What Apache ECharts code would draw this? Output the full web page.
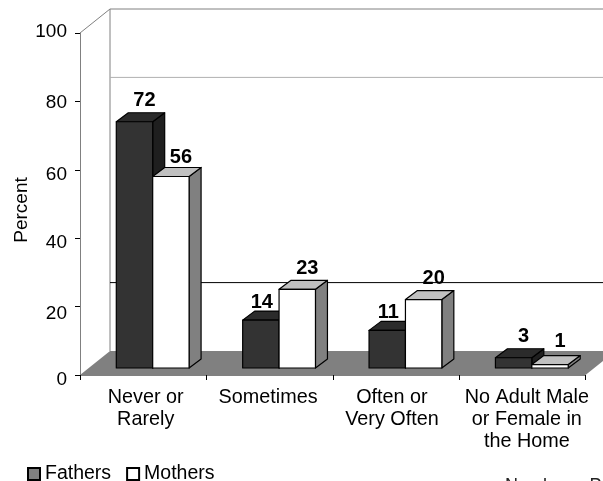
<!DOCTYPE html>
<html><head><meta charset="utf-8">
<style>html,body{margin:0;padding:0;background:#fff}#c{width:603px;height:481px;overflow:hidden}</style>
<script src="https://cdn.jsdelivr.net/npm/echarts@6/dist/echarts.min.js"></script>
</head><body><div id="c"></div>
<script>
const categories = ['Never or\nRarely', 'Sometimes', 'Often or\nVery Often', 'No Adult Male\nor Female in\nthe Home'];
const fathers = [72, 14, 11, 3];
const mothers = [56, 23, 20, 1];
const yTicks = [0, 20, 40, 60, 80, 100];
const wallLines = [20, 80];
const footnote = 'Number = P';

const FONT = '"Liberation Sans", Arial, sans-serif';
const DX = 30, DY = 24, BDX = 12, BDY = 9, MIDX = 9.5, MIDY = 7;
const MOTHER_LABEL_RISE = [18.5, 21, 21, 23];
const chart = echarts.init(document.getElementById('c'), null, {renderer: 'canvas'});

function wallItem(params, api) {
  const band = api.size([1, 0])[0];
  const o = api.coord([0, 0]);
  const t = api.coord([0, 100]);
  const l = o[0] - band / 2, b = o[1], top = t[1];
  const r = api.coord([3, 0])[0] + band / 2;
  const kids = [
    {type: 'polygon', shape: {points: [[l, b], [l + DX, b - DY], [r + DX, b - DY], [r, b]]},
     style: {fill: '#808080', stroke: null}},
    {type: 'polyline', shape: {points: [[l + DX, b - DY], [l + DX, top - DY], [r + DX, top - DY]]},
     style: {fill: null, stroke: '#808080', lineWidth: 1}},
    {type: 'line', shape: {x1: l, y1: top, x2: l + DX, y2: top - DY},
     style: {stroke: '#808080', lineWidth: 1}}
  ];
  return {type: 'group', children: kids};
}
function gridItem(params, api) {
  const v = api.value(0);
  const o = api.coord([0, v]);
  const band = api.size([1, 0])[0];
  const l = o[0] - band / 2 + DX;
  return {type: 'line', shape: {x1: l, y1: o[1] - DY, x2: 603, y2: o[1] - DY},
    style: {stroke: v === 20 ? '#000' : '#b0b0b0', lineWidth: 1}};
}
function barItem(slot, front, topc, side, other) {
  return function (params, api) {
    const i = api.value(0), v = api.value(1);
    const band = api.size([1, 0])[0];
    const w = band * 0.288;
    const c = api.coord([i, v]), z = api.coord([i, 0]);
    const x0 = c[0] + MIDX + (slot === 0 ? -w : 0), x1 = x0 + w;
    const yt = c[1] - MIDY, yb = z[1] - MIDY;
    const edge = {stroke: '#000', lineWidth: 1.2, lineJoin: 'round'};
    const shifted = slot === 0 && other[i] > v;
    const rise = slot === 1 ? MOTHER_LABEL_RISE[i] : (shifted ? 18 : 21);
    return {type: 'group', children: [
      {type: 'polygon', shape: {points: [[x1, yt], [x1 + BDX, yt - BDY], [x1 + BDX, yb - BDY], [x1, yb]]},
       style: Object.assign({fill: side}, edge)},
      {type: 'polygon', shape: {points: [[x0, yt], [x0 + BDX, yt - BDY], [x1 + BDX, yt - BDY], [x1, yt]]},
       style: Object.assign({fill: topc}, edge)},
      {type: 'rect', shape: {x: x0, y: yt, width: w, height: yb - yt},
       style: Object.assign({fill: front}, edge)},
      {type: 'text', x: (x0 + x1) / 2 + (shifted ? 1 : 10), y: yt - rise,
       style: {text: String(v), fill: '#000', font: 'bold 20px ' + FONT, align: 'center', verticalAlign: 'middle'}}
    ]};
  };
}

const labelStyle = off => ({fontFamily: FONT, fontSize: 19, color: '#000',
  padding: off >= 0 ? [2 * off, 0, 0, 0] : [0, 0, -2 * off, 0]});
const catStyle = dx => ({fontFamily: FONT, fontSize: 19.8, color: '#000', lineHeight: 21.8,
  padding: dx >= 0 ? [0, 0, 0, 2 * dx] : [0, -2 * dx, 0, 0]});

chart.setOption({
  animation: false,
  backgroundColor: '#fff',
  grid: {left: 80, right: 17.5, top: 33, height: 342, containLabel: false, outerBoundsMode: 'none'},
  legend: {
    left: 27, top: 464, padding: 0, itemWidth: 12, itemHeight: 12, itemGap: 15, icon: 'rect',
    textStyle: {fontFamily: FONT, fontSize: 19.5, color: '#000'},
    data: ['Fathers', 'Mothers']
  },
  graphic: [{type: 'text', left: 505, top: 477,
    style: {text: footnote, fill: '#222', font: '18px ' + FONT}}],
  xAxis: {
    type: 'category', data: categories,
    axisLine: {lineStyle: {color: '#808080', width: 1}},
    axisTick: {show: true, length: 5, lineStyle: {color: '#000'}},
    axisLabel: {interval: 0, margin: 12, color: '#000',
      formatter: (v, i) => v.split('\n').map(s => '{c' + i + '|' + s + '}').join('\n'),
      rich: {c0: catStyle(2.5), c1: catStyle(-1.5), c2: catStyle(-4), c3: catStyle(4.5)}}
  },
  yAxis: {
    type: 'value', min: 0, max: 100, interval: 20,
    name: 'Percent', nameLocation: 'middle', nameGap: 49, nameMoveOverlap: false,
    nameTextStyle: {fontFamily: FONT, fontSize: 19, color: '#000', padding: [0, 12, 0, 0]},
    splitLine: {show: false},
    axisLine: {show: true, lineStyle: {color: '#808080', width: 1}},
    axisTick: {show: true, length: 5, lineStyle: {color: '#000'}},
    axisLabel: {margin: 13, fontFamily: FONT, fontSize: 19, color: '#000',
      customValues: yTicks,
      formatter: v => '{t' + v + '|' + v + '}',
      rich: {t0: labelStyle(5), t20: labelStyle(7), t40: labelStyle(5), t60: labelStyle(5), t80: labelStyle(1), t100: labelStyle(-1)}}
  },
  series: [
    {type: 'custom', silent: true, z: 1, renderItem: wallItem, data: [[0, 0]], encode: {x: 0, y: 1}},
    {type: 'custom', silent: true, z: 2, renderItem: gridItem, data: wallLines.map(v => [v]), encode: {y: 0}},
    {name: 'Fathers', type: 'custom', z: 3, itemStyle: {color: '#808080', borderColor: '#000', borderWidth: 1},
     renderItem: barItem(0, '#333333', '#2b2b2b', '#1f1f1f', mothers),
     data: fathers.map((v, i) => [i, v]), encode: {x: 0, y: 1}},
    {name: 'Mothers', type: 'custom', z: 4, itemStyle: {color: '#ffffff', borderColor: '#000', borderWidth: 1},
     renderItem: barItem(1, '#ffffff', '#c0c0c0', '#808080', fathers),
     data: mothers.map((v, i) => [i, v]), encode: {x: 0, y: 1}}
  ]
});
</script></body></html>
